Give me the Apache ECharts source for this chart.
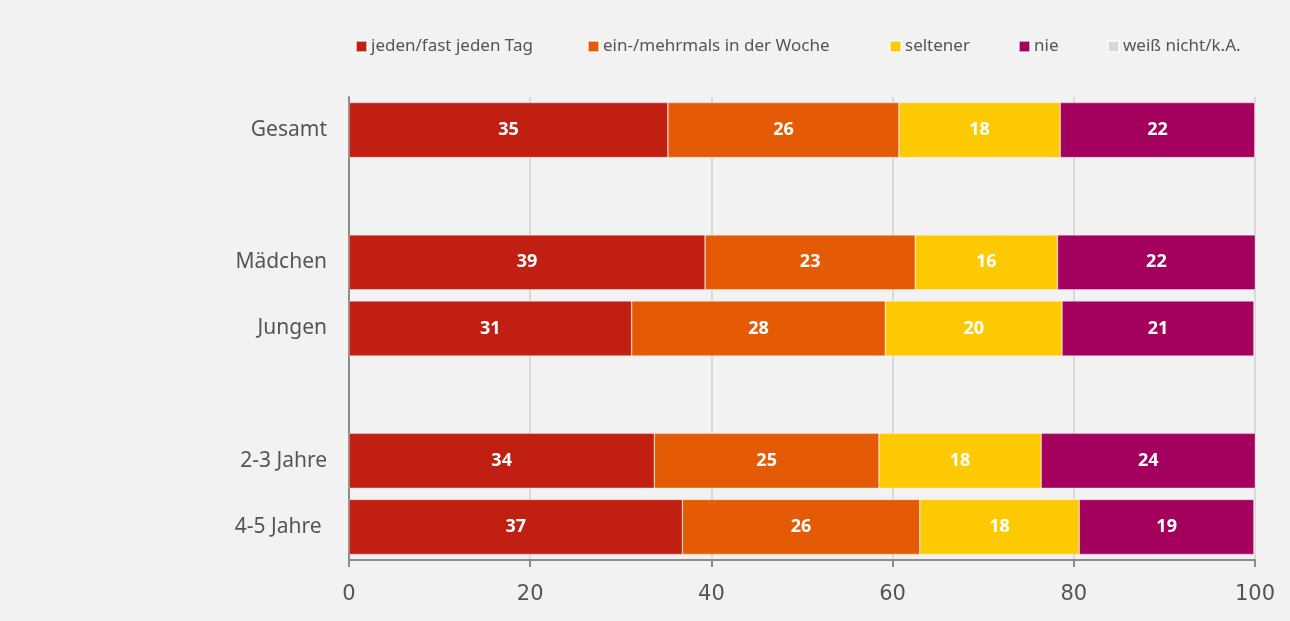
<!DOCTYPE html>
<html>
<head>
<meta charset="utf-8">
<script src="https://cdn.jsdelivr.net/npm/echarts@6/dist/echarts.min.js"></script>
<style>
html,body{margin:0;padding:0;background:#f2f2f2;}
#c{width:1290px;height:621px;}
</style>
</head>
<body>
<div id="c"></div>
<script>
const categories = ['Gesamt', '', 'Mädchen', 'Jungen', ' ', '2-3 Jahre', '4-5 Jahre '];
const seriesNames = ['jeden/fast jeden Tag', 'ein-/mehrmals in der Woche', 'seltener', 'nie', 'weiß nicht/k.A.'];
const jedenTag = [35.2, null, 39.3, 31.2, null, 33.7, 36.8];
const woche = [25.5, null, 23.2, 28.0, null, 24.8, 26.2];
const seltener = [17.8, null, 15.7, 19.5, null, 17.9, 17.6];
const nie = [21.5, null, 21.9, 21.2, null, 23.7, 19.3];
const weissNicht = [0, null, 0, 0, null, 0, 0];
const xTicks = [0, 20, 40, 60, 80, 100];
const colors = ['#c01f11', '#e55a04', '#fdc900', '#a4005d', '#d9d9d9'];
const values = [jedenTag, woche, seltener, nie, weissNicht];
const legendLeft = [355, 587, 889, 1018, 1107];

const chart = echarts.init(document.getElementById('c'), null, {renderer: 'canvas'});
const series = seriesNames.map((n, i) => ({
  name: n,
  type: 'bar',
  stack: 'total',
  barWidth: 55,
  data: values[i],
  itemStyle: {color: colors[i], borderColor: 'rgba(255,255,255,0.6)', borderWidth: 0.6},
  label: {
    show: i < 4,
    position: 'inside',
    color: '#ffffff',
    fontFamily: 'Open Sans',
    fontWeight: 'bold',
    fontSize: 18,
    formatter: p => (p.value == null || p.value === 0) ? '' : String(Math.round(p.value))
  }
}));
chart.setOption({
  backgroundColor: '#f2f2f2',
  animation: false,
  color: colors,
  legend: seriesNames.map((n, i) => ({
    data: [n],
    left: legendLeft[i],
    top: 38,
    padding: 0,
    itemWidth: 11,
    itemHeight: 11,
    itemGap: 5,
    icon: 'rect',
    textStyle: {color: '#555555', fontSize: 17, fontFamily: 'Noto Sans', padding: [0, 0, 0, -1]},
    selectedMode: false
  })),
  grid: {left: 349, right: 35, top: 97, bottom: 61, containLabel: false},
  xAxis: {
    type: 'value',
    min: 0, max: 100, interval: 20,
    axisLine: {show: true, lineStyle: {color: '#8c8c8c', width: 2}},
    axisTick: {show: true, length: 7, lineStyle: {color: '#8c8c8c', width: 2}},
    splitLine: {show: true, lineStyle: {color: '#d9d9d9', width: 2}},
    axisLabel: {
      color: '#555555', fontSize: 21, fontFamily: 'DejaVu Sans', margin: 24,
      formatter: v => xTicks.includes(v) ? String(v) : ''
    }
  },
  yAxis: {
    type: 'category',
    inverse: true,
    data: categories,
    axisLine: {show: true, lineStyle: {color: '#8c8c8c', width: 2}},
    axisTick: {show: false},
    splitLine: {show: false},
    axisLabel: {color: '#555555', fontSize: 21, fontFamily: 'Noto Sans', margin: 22}
  },
  series: series
});
</script>
</body>
</html>
